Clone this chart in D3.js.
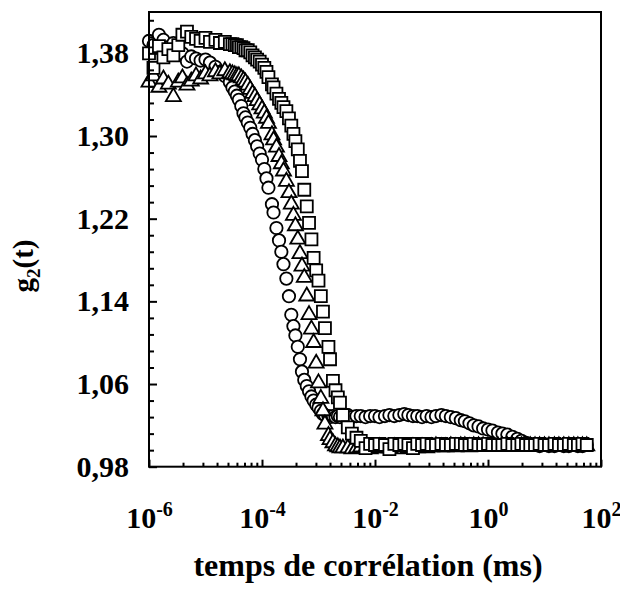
<!DOCTYPE html>
<html>
<head>
<meta charset="utf-8">
<script src="https://cdn.jsdelivr.net/npm/d3@7"></script>
<style>
  html, body { margin: 0; padding: 0; background: #fff; }
  svg { display: block; }
  text { font-family: "Liberation Serif", "Times New Roman", serif; font-weight: bold; fill: #000; }
</style>
</head>
<body>
<svg id="chart" width="620" height="597"></svg>
<script>
// Lag times (ms)
const lagTimes = [
  1.0e-6, 1.2e-6, 1.5e-6, 1.8e-6, 2.2e-6, 2.7e-6, 3.3e-6, 3.9e-6, 4.7e-6, 5.6e-6, 6.8e-6, 8.2e-6,
  1.0e-5, 1.2e-5, 1.5e-5, 1.8e-5, 2.2e-5, 2.7e-5,
  3.0e-5, 3.3e-5, 3.6e-5, 3.9e-5, 4.3e-5, 4.7e-5, 5.1e-5, 5.6e-5, 6.2e-5, 6.8e-5, 7.5e-5, 8.2e-5, 9.1e-5,
  1.0e-4, 1.1e-4, 1.2e-4, 1.3e-4, 1.5e-4, 1.6e-4, 1.8e-4, 2.0e-4, 2.2e-4, 2.4e-4, 2.7e-4, 3.0e-4,
  3.3e-4, 3.6e-4, 3.9e-4, 4.3e-4, 4.7e-4, 5.1e-4, 5.6e-4, 6.2e-4, 6.8e-4, 7.5e-4, 8.2e-4, 9.1e-4,
  1.0e-3, 1.1e-3, 1.2e-3, 1.3e-3, 1.5e-3, 1.6e-3, 1.8e-3, 2.0e-3, 2.2e-3, 2.4e-3, 2.7e-3,
  3.3e-3, 3.9e-3, 4.7e-3, 5.6e-3, 6.8e-3, 8.2e-3,
  1.0e-2, 1.2e-2, 1.5e-2, 1.8e-2, 2.2e-2, 2.7e-2, 3.3e-2, 3.9e-2, 4.7e-2, 5.6e-2, 6.8e-2, 8.2e-2,
  0.10, 0.12, 0.15, 0.18, 0.22, 0.27, 0.33, 0.39, 0.47, 0.56, 0.68, 0.82,
  1.0, 1.2, 1.5, 1.8, 2.2, 2.7, 3.3, 3.9, 4.7, 5.6, 6.8, 8.2,
  10, 12, 15, 18, 22, 27, 33, 39, 47, 56
];

// g2(t) — circles
const circleG = [
  1.392, 1.388, 1.398, 1.393, 1.386, 1.390, 1.384, 1.380, 1.372, 1.377, 1.375, 1.373,
  1.374, 1.371, 1.367, 1.362, 1.358, 1.352,
  1.347, 1.343, 1.339, 1.335, 1.329, 1.322, 1.318, 1.313, 1.308, 1.302, 1.296, 1.290, 1.283,
  1.277, 1.268, 1.259, 1.250, 1.234, 1.226, 1.211, 1.199, 1.188, 1.176, 1.162, 1.145,
  1.127, 1.116, 1.107, 1.096, 1.084, 1.072, 1.064, 1.058, 1.053, 1.048, 1.044, 1.040,
  1.037, 1.034, 1.031, 1.030, 1.029, 1.028, 1.029, 1.028, 1.029, 1.028, 1.029,
  1.030, 1.028, 1.029, 1.029, 1.028, 1.029,
  1.029, 1.028, 1.029, 1.030, 1.029, 1.030, 1.031, 1.030, 1.029, 1.029, 1.028, 1.029,
  1.028, 1.029, 1.030, 1.029, 1.028, 1.027, 1.025, 1.024, 1.022, 1.020, 1.019, 1.017,
  1.016, 1.015, 1.013, 1.012, 1.011, 1.009, 1.007, 1.005, 1.003, 1.002, 1.001, 1.000,
  1.001, 1.000, 1.000, 1.001, 1.000, 1.000, 1.001, 1.000, 1.000, 1.001
];

// g2(t) — triangles
const triangleG = [
  1.352, 1.358, 1.347, 1.355, 1.350, 1.338, 1.352, 1.356, 1.349, 1.353, 1.358, 1.355,
  1.360, 1.358, 1.362, 1.360, 1.363, 1.361,
  1.360, 1.359, 1.358, 1.358, 1.356, 1.354, 1.352, 1.349, 1.345, 1.341, 1.338, 1.334, 1.330,
  1.326, 1.322, 1.317, 1.312, 1.301, 1.296, 1.289, 1.280, 1.273, 1.266, 1.256, 1.245,
  1.234, 1.223, 1.213, 1.200, 1.186, 1.174, 1.163, 1.145, 1.127, 1.113, 1.100, 1.080,
  1.061, 1.046, 1.034, 1.021, 1.010, 1.006, 1.003, 1.000, 0.999, 0.998, 0.998,
  0.998, 0.997, 0.998, 0.999, 0.998, 0.997,
  0.998, 0.999, 0.998, 0.998, 0.999, 0.998, 0.997, 0.998, 0.999, 0.998, 0.999, 0.998,
  0.999, 1.000, 0.999, 0.999, 1.000, 0.999, 1.000, 1.000, 0.999, 1.000, 1.000, 1.000,
  1.000, 1.000, 1.000, 1.000, 1.000, 1.000, 1.000, 1.000, 1.000, 1.000, 1.000, 1.000,
  1.000, 1.000, 1.000, 1.000, 1.000, 1.000, 1.000, 1.000, 1.000, 1.000
];

// g2(t) — squares
const squareG = [
  1.380, 1.366, 1.387, 1.376, 1.384, 1.378, 1.388, 1.398, 1.401, 1.396, 1.394, 1.392,
  1.395, 1.391, 1.393, 1.390, 1.391, 1.389,
  1.389, 1.388, 1.388, 1.386, 1.386, 1.385, 1.383, 1.383, 1.381, 1.378, 1.376, 1.374, 1.372,
  1.369, 1.366, 1.362, 1.357, 1.350, 1.347, 1.341, 1.336, 1.332, 1.328, 1.324, 1.317,
  1.310, 1.302, 1.295, 1.287, 1.276, 1.266, 1.248, 1.232, 1.216, 1.200, 1.182, 1.170,
  1.160, 1.145, 1.130, 1.114, 1.096, 1.084, 1.063, 1.054, 1.047, 1.042, 1.030,
  1.018, 1.012, 1.008, 1.005, 0.998, 1.002,
  1.001, 1.002, 1.001, 0.997, 1.002, 1.001, 1.002, 1.001, 0.998, 1.002, 1.001, 1.002,
  1.001, 1.001, 1.002, 1.001, 1.001, 1.002, 1.002, 1.001, 1.001, 1.002, 1.001, 1.001,
  1.002, 1.001, 1.001, 1.001, 1.002, 1.001, 1.001, 1.002, 1.001, 1.001, 1.001, 1.002,
  1.001, 1.001, 1.002, 1.001, 1.001, 1.002, 1.001, 1.001, 1.002, 1.001
];

const yMajorTicks = [0.98, 1.06, 1.14, 1.22, 1.30, 1.38];
const xMajorExponents = [-6, -4, -2, 0, 2];
const xMinorFactors = [4, 9, 16, 25, 36, 49, 64, 81];

const plot = { left: 149, right: 601, top: 12, bottom: 466.7 };

const svg = d3.select("#chart");

const x = d3.scaleLog().domain([1e-6, 1e2]).range([plot.left, plot.right]);
const y = d3.scaleLinear().domain([0.98, 1.42]).range([plot.bottom, plot.top]);

// Minor tick values
const xMinorTicks = [];
xMajorExponents.slice(0, -1).forEach(e => xMinorFactors.forEach(k => xMinorTicks.push(k * Math.pow(10, e))));
const yMinorTicks = d3.range(0, 27).map(i => +(0.996 + i * 0.016).toFixed(3)).filter(v => v < 1.42 && !yMajorTicks.some(m => Math.abs(m - v) < 1e-6));

// Markers
const stroke = 1.8;
function drawSeries(values, symbolType, size, cls) {
  const pts = lagTimes.map((t, i) => ({ t, g: values[i] }));
  svg.append("g").attr("class", cls)
    .selectAll("path").data(pts).join("path")
    .attr("transform", d => `translate(${x(d.t)},${y(d.g)})`)
    .attr("d", d3.symbol().type(symbolType).size(size))
    .attr("fill", "#fff").attr("stroke", "#000").attr("stroke-width", stroke);
}
drawSeries(circleG, d3.symbolCircle, Math.PI * 6.2 * 6.2, "circles");
drawSeries(triangleG, d3.symbolTriangle, Math.sqrt(3) / 4 * 15 * 15, "triangles");
drawSeries(squareG, d3.symbolSquare, 12 * 12, "squares");

// Frame
svg.append("rect")
  .attr("x", plot.left).attr("y", plot.top)
  .attr("width", plot.right - plot.left).attr("height", plot.bottom - plot.top)
  .attr("fill", "none").attr("stroke", "#000").attr("stroke-width", 2);

// Y axis
const yAxis = d3.axisLeft(y).tickValues(yMajorTicks).tickSize(-8).tickPadding(20)
  .tickFormat(d => d.toFixed(2).replace(".", ","));
const gy = svg.append("g").attr("transform", `translate(${plot.left},0)`).call(yAxis);
gy.select(".domain").remove();
gy.selectAll(".tick line").attr("stroke-width", 2);
gy.selectAll(".tick text").attr("font-size", 30).style("font-family", "'Liberation Serif', serif").style("font-weight", "bold");

const yMinorAxis = d3.axisLeft(y).tickValues(yMinorTicks).tickSize(-5).tickFormat("");
const gym = svg.append("g").attr("transform", `translate(${plot.left},0)`).call(yMinorAxis);
gym.select(".domain").remove();
gym.selectAll(".tick line").attr("stroke-width", 2);

// X axis
const xAxis = d3.axisBottom(x).tickValues(xMajorExponents.map(e => Math.pow(10, e))).tickSize(-7).tickPadding(40)
  .tickFormat(() => "");
const gx = svg.append("g").attr("transform", `translate(0,${plot.bottom})`).call(xAxis);
gx.select(".domain").remove();
gx.selectAll(".tick line").attr("stroke-width", 2);
gx.selectAll(".tick text").each(function(d, i) {
  const t = d3.select(this);
  t.text(null).attr("font-size", 30).style("font-family", "'Liberation Serif', serif").style("font-weight", "bold");
  t.append("tspan").text("10");
  t.append("tspan").attr("font-size", 20).attr("dy", -12).text(String(xMajorExponents[i]));
});

const xMinorAxis = d3.axisBottom(x).tickValues(xMinorTicks).tickSize(-4).tickFormat("");
const gxm = svg.append("g").attr("transform", `translate(0,${plot.bottom})`).call(xMinorAxis);
gxm.select(".domain").remove();
gxm.selectAll(".tick line").attr("stroke-width", 2);

// Axis titles
svg.append("text")
  .attr("x", 368).attr("y", 576)
  .attr("text-anchor", "middle").attr("font-size", 32)
  .text("temps de corrélation (ms)");

const yl = svg.append("text")
  .attr("transform", "translate(33,266) rotate(-90)")
  .attr("text-anchor", "middle").attr("font-size", 29);
yl.append("tspan").text("g");
yl.append("tspan").attr("font-size", 19).attr("dy", 7).text("2");
yl.append("tspan").attr("dy", -7).text("(t)");
</script>
</body>
</html>
